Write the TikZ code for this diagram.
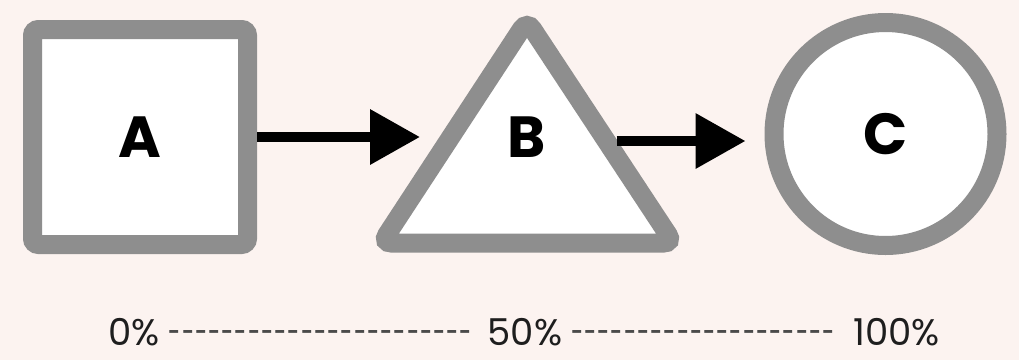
\documentclass[tikz,border=0pt]{standalone}
\usepackage{fontspec}
\usepackage{graphicx}
\usepackage{tikz}
\usetikzlibrary{arrows.meta}
\newfontfamily\popfont{Poppins}
\definecolor{bgpink}{HTML}{FCF3F0}
\definecolor{rimgray}{HTML}{8E8E8E}
\definecolor{dashgray}{HTML}{4A4A4A}
\definecolor{pcttext}{HTML}{1E1E1E}
\newcommand\dashrow[1]{\foreach \k in {1,...,#1}{\scalebox{0.6}[1]{-}\kern1pt}\kern-1pt}
\tikzset{
	rim/.style={draw=rimgray, line width=19pt, fill=white},
	lbl/.style={font=\popfont\bfseries\fontsize{58}{58}\selectfont, text=black},
	pct/.style={font=\popfont\fontsize{37}{37}\selectfont, text=pcttext, inner sep=0pt, anchor=base},
	arr/.style={line width=10pt, -{Triangle[length=50pt,width=53pt]}},
}

\begin{document}
\begin{tikzpicture}[x=1pt, y=-1pt]
	\useasboundingbox (0,0) rectangle (1019,360);
	\fill [bgpink] (0,0) rectangle (1019,360);

	\node [rim, lbl, rounded corners=6pt, minimum width=215pt, minimum height=215pt] (A) at (140,137) {A};

	\draw [rim, rounded corners=10pt] (527,243) -- (381.4,243) -- (527,20.6) -- (673.6,243) -- cycle;
	\node [lbl] (B) at (527,137) {B};

	\node [rim, lbl, circle, inner sep=0pt, minimum size=223pt] (C) at (885.5,134) {C};

	\coordinate (tl) at (420,137);
	\coordinate (tr) at (616.5,141);
	\draw [arr] (A) -- (tl);
	\draw [arr, shorten >=19pt] (tr) -- (tr -| C.west);

	\node [pct] (p0) at (134,345) {0\%};
	\node [pct, text=dashgray] (d1) at (320.5,345) {\dashrow{23}};
	\node [pct] (p50) at (525,345) {50\%};
	\node [pct, text=dashgray] (d2) at (703,345) {\dashrow{20}};
	\node [pct] (p100) at (896.5,345) {100\%};
\end{tikzpicture}
\end{document}
